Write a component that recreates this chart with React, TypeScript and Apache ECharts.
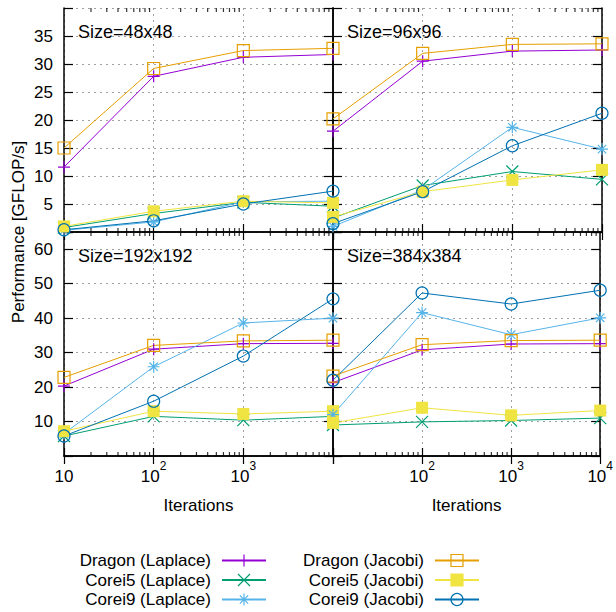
import React, { useEffect, useRef } from 'react';
import * as echarts from 'echarts';

// ---------- data ----------
const iterations = [10, 100, 1000, 10000];
const panelTitles = ['Size=48x48', 'Size=96x96', 'Size=192x192', 'Size=384x384'];
const seriesNames = [
  'Dragon (Laplace)',
  'Corei5 (Laplace)',
  'Corei9 (Laplace)',
  'Dragon (Jacobi)',
  'Corei5 (Jacobi)',
  'Corei9 (Jacobi)',
];

// Size=48x48
const s48DragonLaplace = [11.6, 27.8, 31.2, 31.7];
const s48Corei5Laplace = [0.8, 3.3, 5.3, 4.6];
const s48Corei9Laplace = [0.3, 1.8, 5.4, 5.5];
const s48DragonJacobi = [15.0, 29.2, 32.4, 32.8];
const s48Corei5Jacobi = [1.0, 3.7, 5.5, 5.2];
const s48Corei9Jacobi = [0.4, 2.0, 5.0, 7.3];

// Size=96x96
const s96DragonLaplace = [18.0, 30.5, 32.3, 32.5];
const s96Corei5Laplace = [2.5, 8.3, 10.8, 9.4];
const s96Corei9Laplace = [1.0, 7.5, 18.7, 14.8];
const s96DragonJacobi = [20.2, 31.9, 33.5, 33.6];
const s96Corei5Jacobi = [2.7, 7.2, 9.3, 11.1];
const s96Corei9Jacobi = [1.5, 7.2, 15.4, 21.2];

// Size=192x192
const s192DragonLaplace = [20.3, 31.0, 32.6, 32.7];
const s192Corei5Laplace = [5.8, 11.5, 10.4, 11.5];
const s192Corei9Laplace = [6.5, 25.9, 38.6, 40.0];
const s192DragonJacobi = [22.8, 32.1, 33.4, 33.6];
const s192Corei5Jacobi = [7.2, 13.0, 12.2, 13.0];
const s192Corei9Jacobi = [5.8, 15.9, 29.0, 45.6];

// Size=384x384
const s384DragonLaplace = [21.3, 30.8, 32.5, 32.6];
const s384Corei5Laplace = [9.0, 9.9, 10.3, 11.0];
const s384Corei9Laplace = [12.0, 41.6, 35.2, 40.1];
const s384DragonJacobi = [23.2, 32.3, 33.5, 33.6];
const s384Corei5Jacobi = [9.6, 14.0, 11.8, 13.2];
const s384Corei9Jacobi = [22.0, 47.3, 44.1, 48.1];

const panelValues = [
  [s48DragonLaplace, s48Corei5Laplace, s48Corei9Laplace, s48DragonJacobi, s48Corei5Jacobi, s48Corei9Jacobi],
  [s96DragonLaplace, s96Corei5Laplace, s96Corei9Laplace, s96DragonJacobi, s96Corei5Jacobi, s96Corei9Jacobi],
  [s192DragonLaplace, s192Corei5Laplace, s192Corei9Laplace, s192DragonJacobi, s192Corei5Jacobi, s192Corei9Jacobi],
  [s384DragonLaplace, s384Corei5Laplace, s384Corei9Laplace, s384DragonJacobi, s384Corei5Jacobi, s384Corei9Jacobi],
];

const yTickLabelsTop = [5, 10, 15, 20, 25, 30, 35];
const yTickLabelsBottom = [10, 20, 30, 40, 50, 60];
const xTickLabelsLeft = [10, 100, 1000];
const xTickLabelsRight = [100, 1000, 10000];
const minorTickPositions = [
  20, 30, 40, 50, 60, 70, 80, 90,
  200, 300, 400, 500, 600, 700, 800, 900,
  2000, 3000, 4000, 5000, 6000, 7000, 8000, 9000,
];

// ---------- styles / layout ----------
const FONT = '"Liberation Sans", Arial, Helvetica, sans-serif';
const FS = 17;
const seriesColors = ['#9400d3', '#009e73', '#56b4e9', '#e69f00', '#f0e442', '#0072b2'];
const PLUS = 'path://M0,5L10,5M5,0L5,10';
const CROSS = 'path://M0,0L10,10M10,0L0,10';
const STAR = 'path://M0,5L10,5M5,0L5,10M1.5,1.5L8.5,8.5M8.5,1.5L1.5,8.5';
const seriesSymbols = [PLUS, CROSS, STAR, 'rect', 'rect', 'circle'];
const filledSymbol = [false, false, false, false, true, false];

const gridBoxes = [
  { left: 64, top: 8, width: 269, height: 224 },
  { left: 333, top: 8, width: 269, height: 224 },
  { left: 64, top: 232, width: 269, height: 224 },
  { left: 333, top: 232, width: 269, height: 224 },
];
const yRanges = [
  { min: 0, max: 40, interval: 5, labels: yTickLabelsTop },
  { min: 0, max: 40, interval: 5, labels: yTickLabelsTop },
  { min: 0, max: 65, interval: 10, labels: yTickLabelsBottom },
  { min: 0, max: 65, interval: 10, labels: yTickLabelsBottom },
];
const titlePos = [
  [78, 32],
  [347, 32],
  [78, 256],
  [347, 256],
];

function buildOption() {
  const grid: any[] = [];
  const xAxis: any[] = [];
  const yAxis: any[] = [];
  const series: any[] = [];
  const graphic: any[] = [];

  const axisLine = { show: true, lineStyle: { color: '#000', width: 1.5 } };
  const grayDotted = { show: true, lineStyle: { color: '#a0a0a0', width: 1, type: [2, 4] } };

  gridBoxes.forEach((box, i) => {
    grid.push({ ...box, containLabel: false });
    const isBottom = i >= 2;
    const isLeft = i % 2 === 0;
    const xLabels = isLeft ? xTickLabelsLeft : xTickLabelsRight;
    const yr = yRanges[i];

    // bottom x axis
    xAxis.push({
      type: 'log',
      logBase: 10,
      min: 10,
      max: 10000,
      gridIndex: i,
      position: 'bottom',
      axisLine,
      axisTick: { show: true, inside: true, length: 8, lineStyle: { color: '#000', width: 1.2 } },
      splitLine: grayDotted,
      axisLabel: {
        show: isBottom,
        margin: 8,
        color: '#000',
        fontFamily: FONT,
        showMinLabel: true,
        showMaxLabel: true,
        formatter: (v: number) => {
          const shown = xLabels.some((t) => Math.abs(t - v) < 1e-6 * t);
          if (!shown) return '';
          const e = Math.round(Math.log10(v));
          return e === 1 ? '{b|10}' : `{b|10}{s|${e}}`;
        },
        rich: {
          b: { fontSize: FS, height: 16, lineHeight: 20, verticalAlign: 'bottom', fontFamily: FONT, color: '#000' },
          s: { fontSize: 12, height: 4, lineHeight: 4, verticalAlign: 'top', fontFamily: FONT, color: '#000' },
        },
      },
      name: isBottom ? 'Iterations' : '',
      nameLocation: 'middle',
      nameGap: 41,
      nameTextStyle: { fontSize: FS, color: '#000', fontFamily: FONT },
    });
    // top x axis (mirror)
    xAxis.push({
      type: 'log',
      logBase: 10,
      min: 10,
      max: 10000,
      gridIndex: i,
      position: 'top',
      axisLine,
      axisTick: { show: true, inside: true, length: 8, lineStyle: { color: '#000', width: 1.2 } },
      splitLine: { show: false },
      axisLabel: { show: false },
    });
    // left y axis
    yAxis.push({
      type: 'value',
      gridIndex: i,
      position: 'left',
      min: yr.min,
      max: yr.max,
      interval: yr.interval,
      axisLine,
      axisTick: { show: true, inside: true, length: 9, lineStyle: { color: '#000', width: 1.2 } },
      splitLine: grayDotted,
      axisLabel: {
        show: isLeft,
        margin: 11,
        fontSize: FS,
        color: '#000',
        fontFamily: FONT,
        formatter: (v: number) => (yr.labels.includes(v) ? String(v) : ''),
      },
    });
    // right y axis (mirror)
    yAxis.push({
      type: 'value',
      gridIndex: i,
      position: 'right',
      min: yr.min,
      max: yr.max,
      interval: yr.interval,
      axisLine,
      axisTick: { show: true, inside: true, length: 9, lineStyle: { color: '#000', width: 1.2 } },
      splitLine: { show: false },
      axisLabel: { show: false },
    });

    // data series
    seriesNames.forEach((name, k) => {
      const c = seriesColors[k];
      series.push({
        type: 'line',
        name,
        xAxisIndex: 2 * i,
        yAxisIndex: 2 * i,
        data: iterations.map((x, j) => [x, panelValues[i][k][j]]),
        symbol: seriesSymbols[k],
        symbolSize: 12,
        showAllSymbol: true,
        clip: false,
        silent: true,
        z: 3,
        lineStyle: { color: c, width: 1 },
        itemStyle: filledSymbol[k]
          ? { color: c, borderColor: c, borderWidth: 0 }
          : { color: 'rgba(0,0,0,0)', borderColor: c, borderWidth: 1.2 },
      });
    });

    // minor log ticks on bottom and top edges
    series.push({
      type: 'scatter',
      xAxisIndex: 2 * i,
      yAxisIndex: 2 * i,
      data: minorTickPositions.map((x) => [x, yr.min]),
      symbol: 'rect',
      symbolSize: [1.2, 4],
      symbolOffset: [0, -2],
      itemStyle: { color: '#000' },
      silent: true,
      clip: false,
      z: 4,
    });
    series.push({
      type: 'scatter',
      xAxisIndex: 2 * i,
      yAxisIndex: 2 * i,
      data: minorTickPositions.map((x) => [x, yr.max]),
      symbol: 'rect',
      symbolSize: [1.2, 4],
      symbolOffset: [0, 2],
      itemStyle: { color: '#000' },
      silent: true,
      clip: false,
      z: 4,
    });

    graphic.push({
      type: 'text',
      x: titlePos[i][0],
      y: titlePos[i][1],
      silent: true,
      style: {
        text: panelTitles[i],
        fontSize: 18,
        fontFamily: FONT,
        fill: '#000',
        verticalAlign: 'middle',
        align: 'left',
      },
    });
  });

  graphic.push({
    type: 'text',
    x: 18,
    y: 232,
    rotation: Math.PI / 2,
    silent: true,
    style: {
      text: 'Performance [GFLOP/s]',
      fontSize: FS,
      fontFamily: FONT,
      fill: '#000',
      align: 'center',
      verticalAlign: 'middle',
    },
  });

  const legendCommon = {
    orient: 'vertical',
    align: 'right',
    top: 552,
    height: 200,
    padding: 0,
    itemWidth: 44,
    itemHeight: 15,
    itemGap: 2.5,
    selectedMode: false,
    formatter: (n: string) => `{n|${n}}`,
    textStyle: {
      fontSize: FS,
      lineHeight: 15,
      color: '#000',
      fontFamily: FONT,
      rich: { n: { fontSize: FS, height: 15, lineHeight: 15, fontFamily: FONT, color: '#000', padding: [0, 6, 0, 0] } },
    },
    itemStyle: { borderWidth: 1.2 },
  };

  return {
    animation: false,
    backgroundColor: '#fff',
    color: seriesColors,
    textStyle: { fontFamily: FONT },
    grid,
    xAxis,
    yAxis,
    series,
    graphic,
    legend: [
      { ...legendCommon, right: 349, data: seriesNames.slice(0, 3) },
      { ...legendCommon, right: 136, data: seriesNames.slice(3, 6) },
    ],
  };
}

export default function App() {
  const ref = useRef<HTMLDivElement>(null);
  useEffect(() => {
    if (!ref.current) return;
    const chart = echarts.init(ref.current, undefined, { renderer: 'svg' });
    chart.setOption(buildOption() as any);
    return () => chart.dispose();
  }, []);
  return (
    <div
      ref={ref}
      style={{ position: 'absolute', left: 0, top: 0, width: 616, height: 612, background: '#fff' }}
    />
  );
}
